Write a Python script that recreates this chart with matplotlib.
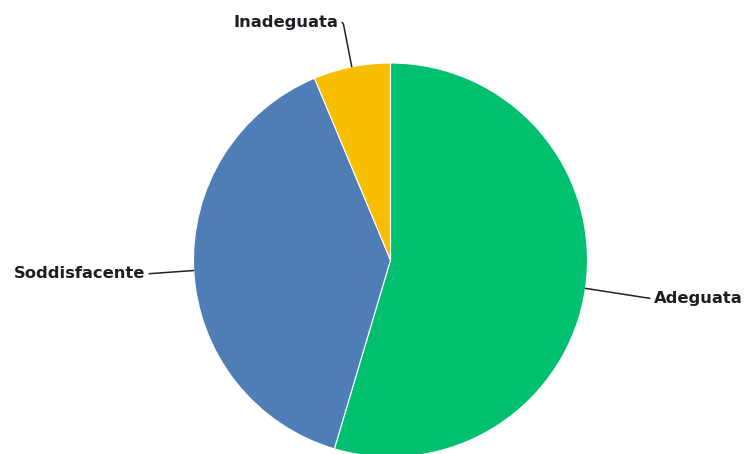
import matplotlib.pyplot as plt
import numpy as np

labels = ["Adeguata", "Soddisfacente", "Inadeguata"]
values = [54.6, 39.1, 6.3]
colors = ["#00BF6F", "#4F7DB5", "#F9BE00"]
label_pos = [(654, 155), (145, 180), (338, 432)]
label_ha = ["left", "right", "right"]
relpos = [(0, 0.5), (1, 0.5), (1, 0.5)]
conn = ["arc3", "arc3", "angle,angleA=0,angleB=101,rad=3"]

W, H = 744, 454
fig = plt.figure(figsize=(W / 100, H / 100), dpi=100)
ax = fig.add_axes([0, 0, 1, 1])
cx, cy, r = 390.5, 194, 197

wedges, _ = ax.pie(values, colors=colors, startangle=90, counterclock=False,
                   center=(cx, cy), radius=r,
                   wedgeprops={"linewidth": 0.8, "edgecolor": "white"})

for w, lab, pos, ha, rp, cs in zip(wedges, labels, label_pos, label_ha, relpos, conn):
    ang = np.deg2rad((w.theta1 + w.theta2) / 2)
    edge = (cx + r * np.cos(ang), cy + r * np.sin(ang))
    ax.annotate(lab, xy=edge, xytext=pos, ha=ha, va="center",
                fontsize=11.8, fontweight="bold", color="#1e1e26",
                arrowprops=dict(arrowstyle="-", color="#222222", lw=1.1,
                                shrinkA=1, shrinkB=0, relpos=rp,
                                connectionstyle=cs))

ax.set_xlim(0, W)
ax.set_ylim(0, H)
ax.set_aspect("equal")
ax.axis("off")
fig.savefig("out.png", dpi=100)
